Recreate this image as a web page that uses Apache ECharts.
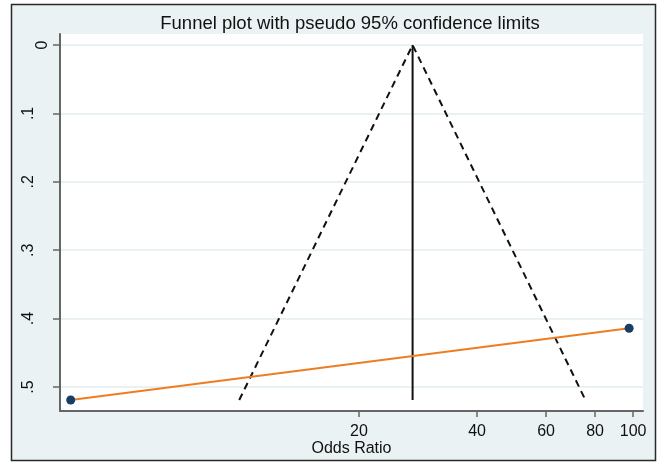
<!DOCTYPE html>
<html>
<head>
<meta charset="utf-8">
<script src="https://cdn.jsdelivr.net/npm/echarts@6/dist/echarts.min.js"></script>
<style>
  html, body { margin: 0; padding: 0; background: #ffffff; }
  #chart { width: 660px; height: 462px; }
</style>
</head>
<body>
<div id="chart"></div>
<script>
// Study estimates: odds ratio and standard error of log odds ratio
const studyOR = [3.68, 97.7];
const studySE = [0.519, 0.414];

// Pooled (fixed-effect) odds ratio and the pseudo 95% limit lines
const pooledOR = 27.4;
const pooledSE = [0, 0.519];
const limitOR = [9.9, 27.4, 75.6];
const limitSE = [0.519, 0, 0.519];

// Axis ticks
const xTickOR = [20, 40, 60, 80, 100];
const yTicks = [0, 0.1, 0.2, 0.3, 0.4, 0.5];

// Plot range (odds ratio on a log scale, SE reversed)
const xRangeOR = [3.456, 106.0];
const yRange = [-0.0161, 0.535];

const ln = Math.log;
const toPts = (ors, ses) => ors.map((o, i) => [ln(o), ses[i]]);

const font = '"Liberation Sans", Arial, sans-serif';
const bg = '#EAF2F3';

const chart = echarts.init(document.getElementById('chart'), null, { renderer: 'canvas' });

chart.setOption({
  animation: false,
  backgroundColor: '#ffffff',
  title: {
    text: 'Funnel plot with pseudo 95% confidence limits',
    left: 345, top: 9, textAlign: 'center',
    textStyle: { fontFamily: font, fontSize: 18.5, fontWeight: 'normal', color: '#111' }
  },
  graphic: [{
    type: 'rect', z: -10, silent: true,
    shape: { x: 11.5, y: 4.5, width: 644, height: 456 },
    style: { fill: bg, stroke: '#2a2a2a', lineWidth: 1.5 }
  }],
  grid: {
    left: 60, top: 34, right: 17, bottom: 51,
    outerBoundsMode: 'none', containLabel: false,
    show: true, backgroundColor: '#ffffff', borderWidth: 0
  },
  xAxis: {
    type: 'value',
    min: ln(xRangeOR[0]), max: ln(xRangeOR[1]),
    name: 'Odds Ratio', nameLocation: 'middle', nameGap: 30, nameMoveOverlap: false,
    nameTextStyle: { fontFamily: font, fontSize: 16, color: '#111' },
    axisLine: { onZero: false, lineStyle: { color: '#666', width: 2 } },
    axisTick: { show: true, length: 6, customValues: xTickOR.map(ln), lineStyle: { color: '#666', width: 1.5 } },
    axisLabel: {
      customValues: xTickOR.map(ln), margin: 13,
      fontFamily: font, fontSize: 16, color: '#111',
      formatter: v => String(Math.round(Math.exp(v)))
    },
    splitLine: { show: false }
  },
  yAxis: {
    type: 'value', inverse: true,
    min: yRange[0], max: yRange[1],
    axisLine: { show: true, onZero: false, lineStyle: { color: '#666', width: 2 } },
    axisTick: { show: true, length: 7, customValues: yTicks, lineStyle: { color: '#666', width: 1.5 } },
    axisLabel: {
      customValues: yTicks, rotate: 90, margin: 9,
      fontFamily: font, fontSize: 16, color: '#111',
      formatter: v => (v === 0 ? '{z|0}' : '{d|' + String(Math.round(v * 10) / 10).replace(/^0/, '') + '}'),
      rich: {
        z: { fontFamily: font, fontSize: 16, color: '#111' },
        d: { fontFamily: font, fontSize: 16, color: '#111', padding: [0, 0, 14, 0] }
      }
    },
    splitLine: { show: true, lineStyle: { color: '#E3EDEF', width: 1.5 } }
  },
  series: [
    {
      name: 'Pseudo 95% limits', type: 'line',
      data: toPts(limitOR, limitSE),
      symbol: 'none', z: 3,
      lineStyle: { color: '#111', width: 2, type: [7, 5] }
    },
    {
      name: 'Pooled', type: 'line',
      data: toPts([pooledOR, pooledOR], pooledSE),
      symbol: 'none', z: 3,
      lineStyle: { color: '#111', width: 2 }
    },
    {
      name: 'Fit', type: 'line',
      data: toPts(studyOR, studySE),
      symbol: 'none', z: 4,
      lineStyle: { color: '#EE7D22', width: 2 }
    },
    {
      name: 'Studies', type: 'scatter',
      data: toPts(studyOR, studySE),
      symbolSize: 9, z: 5,
      itemStyle: { color: '#163E66', opacity: 1 }
    }
  ]
});
</script>
</body>
</html>
